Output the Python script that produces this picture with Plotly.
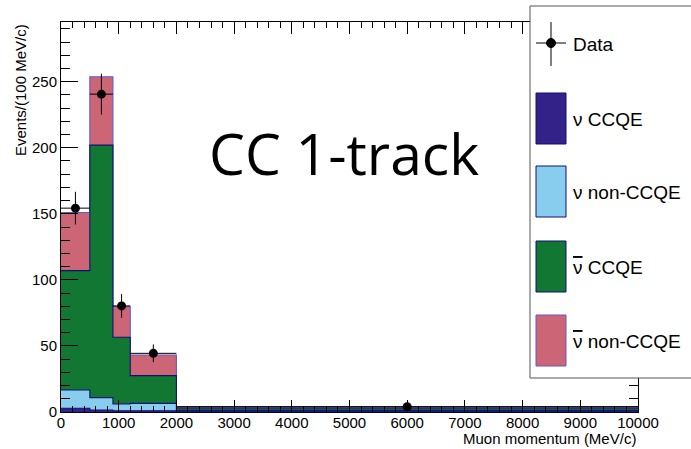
import plotly.graph_objects as go

# ---------------- data ----------------
bin_edges = [0, 500, 900, 1200, 2000, 10000]
nu_ccqe = [2.8, 1.5, 1.0, 1.0, 0.8]
nu_nonccqe = [13.9, 9.4, 5.0, 5.5, 0.4]
nubar_ccqe = [90.3, 191.1, 50.6, 21.0, 1.8]
nubar_nonccqe = [44.0, 51.8, 23.2, 15.7, 1.2]
data_vals = [154.3, 240.6, 80.3, 44.4, 4.0]
data_errs = [12.4, 15.5, 9.0, 6.7, 2.0]
x_ticks = [0, 1000, 2000, 3000, 4000, 5000, 6000, 7000, 8000, 9000, 10000]
y_ticks = [0, 50, 100, 150, 200, 250]

layer_names = ["ν CCQE", "ν non-CCQE", "ν̄ CCQE", "ν̄ non-CCQE"]
legend_labels = ["ν CCQE", "ν non-CCQE",
                 '<span style="text-decoration:overline">ν</span> CCQE',
                 '<span style="text-decoration:overline">ν</span> non-CCQE']
fill_colors = ["#332288", "#88CCEE", "#117733", "#CC6677"]
line_colors = ["#10107a", "#10107a", "#10107a", "#6458c8"]

W, H = 691, 449
L, R, T, B = 61, 53, 22, 37
PW, PH = W - L - R, H - T - B


def px(xp):
    return (xp - L) / PW


def py(yp):
    return (H - B - yp) / PH


layers = [nu_ccqe, nu_nonccqe, nubar_ccqe, nubar_nonccqe]
cum = []
run = [0.0] * len(nu_ccqe)
for lay in layers:
    run = [a + b for a, b in zip(run, lay)]
    cum.append(list(run))

fig = go.Figure()
# draw from top of stack downwards so lower layers cover the upper fills
for i in reversed(range(len(layers))):
    ys = cum[i] + [cum[i][-1]]
    fig.add_trace(go.Scatter(
        x=bin_edges, y=ys, mode="lines", line_shape="hv",
        line=dict(color=line_colors[i], width=1.1),
        fill="tozeroy", fillcolor=fill_colors[i],
        name=layer_names[i], showlegend=False, hoverinfo="skip"))

centers = [(a + b) / 2 for a, b in zip(bin_edges[:-1], bin_edges[1:])]
halfw = [(b - a) / 2 for a, b in zip(bin_edges[:-1], bin_edges[1:])]
fig.add_trace(go.Scatter(
    x=centers, y=data_vals, mode="markers",
    marker=dict(color="black", size=9),
    error_y=dict(type="data", array=data_errs, color="black", thickness=1, width=0),
    error_x=dict(type="data", array=halfw, color="black", thickness=1, width=0),
    name="Data", showlegend=False))

axis_common = dict(
    showgrid=False, zeroline=False, showline=True, linecolor="black", linewidth=1,
    mirror="ticks", ticks="inside", tickcolor="black", tickwidth=1,
    tickfont=dict(family="Liberation Sans", size=15, color="black"),
)
fig.update_xaxes(range=[0, 10000], tickvals=x_ticks, ticktext=[str(v) for v in x_ticks],
                 ticklen=12, ticklabelstandoff=-3,
                 minor=dict(dtick=200, ticklen=6, ticks="inside", tickcolor="black"),
                 **axis_common)
fig.update_yaxes(range=[0, 295.2], tickvals=y_ticks, ticktext=[str(v) for v in y_ticks],
                 ticklen=17, minor=dict(dtick=10, ticklen=9, ticks="inside", tickcolor="black"),
                 **axis_common)

shapes = []
annotations = []
# legend frame
shapes.append(dict(type="rect", xref="paper", yref="paper", layer="above",
                   x0=px(530), x1=px(705), y0=py(378), y1=py(6),
                   fillcolor="white", line=dict(color="#555555", width=1)))
# data legend symbol
shapes.append(dict(type="line", xref="paper", yref="paper", layer="above",
                   x0=px(536), x1=px(566), y0=py(43), y1=py(43), line=dict(color="black", width=1)))
shapes.append(dict(type="line", xref="paper", yref="paper", layer="above",
                   x0=px(551), x1=px(551), y0=py(22), y1=py(66), line=dict(color="black", width=1)))
shapes.append(dict(type="circle", xref="paper", yref="paper", layer="above",
                   x0=px(546.5), x1=px(555.5), y0=py(47.5), y1=py(38.5),
                   fillcolor="black", line=dict(color="black", width=1)))
annotations.append(dict(text="Data", xref="paper", yref="paper", x=px(571), y=py(44),
                        xanchor="left", yanchor="middle", showarrow=False,
                        font=dict(family="Liberation Sans", size=19, color="black")))
box_tops = [93, 166, 241, 315]
for i in range(4):
    t = box_tops[i]
    shapes.append(dict(type="rect", xref="paper", yref="paper", layer="above",
                       x0=px(536), x1=px(566), y0=py(t + 51), y1=py(t),
                       fillcolor=fill_colors[i], line=dict(color=line_colors[i], width=1)))
    annotations.append(dict(text=legend_labels[i], xref="paper", yref="paper",
                            x=px(571), y=py(t + 26), xanchor="left", yanchor="middle",
                            showarrow=False,
                            font=dict(family="Liberation Sans", size=19, color="black")))

annotations.append(dict(text="CC 1-track", xref="paper", yref="paper", x=px(344), y=py(153),
                        xanchor="center", yanchor="middle", showarrow=False,
                        font=dict(family="Open Sans", size=57, color="black")))
annotations.append(dict(text="Events/(100 MeV/c)", xref="paper", yref="paper",
                        x=px(20), y=1.0, xanchor="center", yanchor="top", textangle=-90,
                        showarrow=False,
                        font=dict(family="Liberation Sans", size=15, color="black")))
annotations.append(dict(text="Muon momentum (MeV/c)", xref="paper", yref="paper",
                        x=1.0, y=py(438), xanchor="right", yanchor="middle", showarrow=False,
                        font=dict(family="Liberation Sans", size=15, color="black")))

fig.update_layout(
    width=W, height=H, margin=dict(l=L, r=R, t=T, b=B),
    paper_bgcolor="white", plot_bgcolor="white",
    shapes=shapes, annotations=annotations, showlegend=False,
)

fig.write_html("out.html", config={"displayModeBar": False},
               post_script="document.body.style.margin='0px';")
